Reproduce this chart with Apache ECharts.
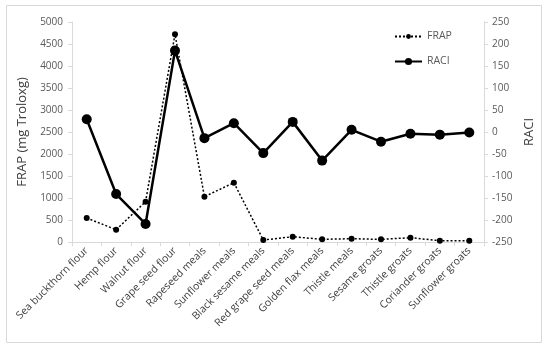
<!DOCTYPE html>
<html><head><meta charset="utf-8">
<script src="https://cdn.jsdelivr.net/npm/echarts@6/dist/echarts.min.js"></script>
<style>html,body{margin:0;padding:0;background:#fff}#c{width:550px;height:351px}</style>
</head><body><div id="c"></div>
<script>
const categories = ["Sea buckthorn flour","Hemp flour","Walnut flour","Grape seed flour","Rapeseed meals","Sunflower meals","Black sesame meals","Red grape seed meals","Golden flax meals","Thistle meals","Sesame groats","Thistle groats","Coriander groats","Sunflower groats"];
const frap = [545, 280, 916, 4720, 1030, 1348, 45, 120, 60, 75, 60, 98, 30, 30];
const raci = [29, -141, -209, 185, -14, 20, -48, 23, -65, 5, -22, -4, -6, -1];
const leftTicks = {min: 0, max: 5000, interval: 500};
const rightTicks = {min: -250, max: 250, interval: 50};

const chart = echarts.init(document.getElementById('c'));
const axisCol = '#d9d9d9', txt = '#595959';
const legText = {color: txt, fontSize: 10.5, fontFamily: 'Open Sans'};
chart.setOption({
  animation: false,
  graphic: [{type:'rect', shape:{x:6.5,y:5.5,width:535,height:337}, style:{fill:'none', stroke:'#d9d9d9', lineWidth:1}, silent:true}],
  grid: {left: 72, right: 66, top: 22, bottom: 109},
  legend: [{
    left: 389, top: 26, itemWidth: 27, itemHeight: 6, itemGap: 4,
    textStyle: legText, data: ['FRAP']
  }, {
    left: 389, top: 51, itemWidth: 27, itemHeight: 9, itemGap: 4,
    textStyle: legText, data: ['RACI']
  }],
  xAxis: {
    type: 'category', data: categories, boundaryGap: true,
    axisLine: {lineStyle: {color: axisCol}},
    axisTick: {show: true, lineStyle: {color: axisCol}, length: 4},
    axisLabel: {rotate: 45, color: '#404040', fontSize: 10.5, fontFamily: 'Open Sans', margin: 7, interval: 0}
  },
  yAxis: [{
    type: 'value', min: leftTicks.min, max: leftTicks.max, interval: leftTicks.interval,
    name: 'FRAP (mg Troloxg)', nameLocation: 'middle', nameGap: 40,
    nameTextStyle: {color: '#404040', fontSize: 13, fontFamily: 'Open Sans'},
    axisLine: {show: true, lineStyle: {color: axisCol}},
    axisTick: {show: true, lineStyle: {color: axisCol}, length: 4},
    splitLine: {show: false},
    axisLabel: {color: txt, fontSize: 10, fontFamily: 'Open Sans', margin: 9, formatter: v => String(v)}
  }, {
    type: 'value', min: rightTicks.min, max: rightTicks.max, interval: rightTicks.interval,
    name: 'RACI', nameLocation: 'middle', nameGap: 30,
    nameTextStyle: {color: '#404040', fontSize: 13, fontFamily: 'Open Sans'},
    axisLine: {show: true, lineStyle: {color: axisCol}},
    axisTick: {show: true, lineStyle: {color: axisCol}, length: 4},
    splitLine: {show: false},
    axisLabel: {color: txt, fontSize: 10, fontFamily: 'Open Sans', margin: 8}
  }],
  series: [{
    name: 'FRAP', type: 'line', yAxisIndex: 0, data: frap,
    symbol: 'circle', symbolSize: 6,
    lineStyle: {color: '#000', width: 1.5, type: [2, 2]},
    itemStyle: {color: '#000'}
  }, {
    name: 'RACI', type: 'line', yAxisIndex: 1, data: raci,
    symbol: 'circle', symbolSize: 10,
    lineStyle: {color: '#000', width: 2.5},
    itemStyle: {color: '#000'}
  }]
});
</script></body></html>
